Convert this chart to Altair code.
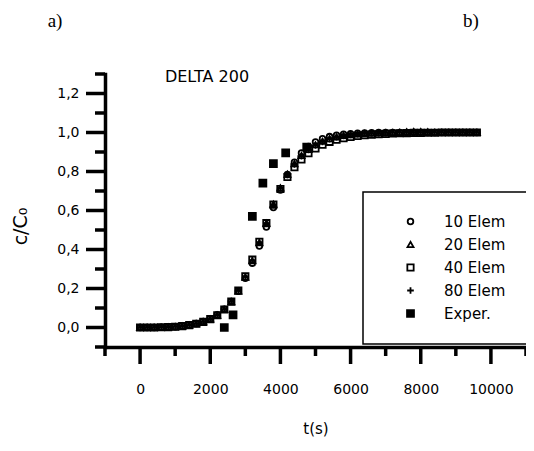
import altair as alt
import pandas as pd

# ---- data ----
times = [0, 200, 400, 600, 800, 1000, 1200, 1400, 1600, 1800, 2000, 2200, 2400,
         2600, 2800, 3000, 3200, 3400, 3600, 3800, 4000, 4200, 4400, 4600, 4800,
         5000, 5200, 5400, 5600, 5800, 6000, 6200, 6400, 6600, 6800, 7000, 7200,
         7400, 7600, 7800, 8000, 8200, 8400, 8600, 8800, 9000, 9200, 9400, 9600]

elem10 = [0, 0, 0, 0.001, 0.002, 0.004, 0.008, 0.013, 0.020, 0.031,
          0.045, 0.065, 0.094, 0.134, 0.186, 0.252, 0.330, 0.418, 0.515, 0.615,
          0.705, 0.785, 0.848, 0.895, 0.928, 0.952, 0.968, 0.979, 0.986, 0.991,
          0.994, 0.996, 0.998, 0.999, 1.0, 1.0, 1.0,
          1.0, 1.0, 1.0, 1.0, 1.0, 1.0, 1.0, 1.0, 1.0, 1.0, 1.0, 1.0]

elem20 = [0, 0, 0, 0.001, 0.002, 0.004, 0.007, 0.012, 0.019, 0.029,
          0.043, 0.063, 0.092, 0.132, 0.187, 0.258, 0.342, 0.435, 0.535, 0.632,
          0.716, 0.786, 0.840, 0.882, 0.913, 0.937, 0.955, 0.968, 0.977, 0.984,
          0.989, 0.992, 0.994, 0.996, 0.997, 0.998, 0.999,
          1.0, 1.003, 1.005, 1.004, 1.003, 1.0, 1.0, 1.0, 1.0, 1.0, 1.0, 1.0]

elem40 = [0, 0, 0, 0.001, 0.002, 0.004, 0.007, 0.012, 0.019, 0.029,
          0.043, 0.063, 0.092, 0.133, 0.189, 0.262, 0.348, 0.440, 0.535, 0.630,
          0.710, 0.772, 0.822, 0.862, 0.894, 0.918, 0.937, 0.952, 0.963, 0.971,
          0.977, 0.982, 0.986, 0.989, 0.991, 0.993, 0.995,
          0.996, 0.997, 0.998, 0.998, 0.999, 0.999, 1.0, 1.0, 1.0, 1.0, 1.0, 1.0]

elem80 = [0, 0, 0, 0.001, 0.002, 0.004, 0.007, 0.012, 0.019, 0.029,
          0.043, 0.063, 0.092, 0.133, 0.188, 0.260, 0.345, 0.438, 0.535, 0.630,
          0.713, 0.782, 0.836, 0.878, 0.910, 0.934, 0.952, 0.966, 0.976, 0.983,
          0.988, 0.991, 0.994, 0.996, 0.997, 0.998, 0.999,
          1.0, 1.0, 1.0, 1.0, 1.0, 1.0, 1.0, 1.0, 1.0, 1.0, 1.0, 1.0]

exp_t = [2400, 2650, 3200, 3500, 3800, 4150, 4750]
exp_c = [0.0, 0.065, 0.57, 0.74, 0.84, 0.895, 0.925]

series_names = ["10 Elem", "20 Elem", "40 Elem", "80 Elem", "Exper."]
series_shapes = ["circle", "triangle-up", "square", "M-1,0H1M0,-1V1", "square"]
series_fills = ["transparent", "transparent", "transparent", "transparent", "black"]
series_sizes = [32, 48, 38, 50, 64]

x_major = [0, 2000, 4000, 6000, 8000, 10000]
x_minor = [-1000, 1000, 3000, 5000, 7000, 9000, 11000]
y_major = [0.0, 0.2, 0.4, 0.6, 0.8, 1.0, 1.2]
y_minor = [-0.1, 0.1, 0.3, 0.5, 0.7, 0.9, 1.1, 1.3]

# ---- build tables ----
rows = []
for name, vals in zip(series_names[:4], [elem10, elem20, elem40, elem80]):
    for t, c in zip(times, vals):
        rows.append({"t": t, "c": c, "series": name})
for t, c in zip(exp_t, exp_c):
    rows.append({"t": t, "c": c, "series": "Exper."})
df = pd.DataFrame(rows)

FONT = "DejaVu Sans"
W, H = 421, 273
LW = 3.5

xscale = alt.Scale(domain=[-1000, 11000], nice=False, zero=False)
yscale = alt.Scale(domain=[-0.1, 1.3], nice=False, zero=False)

x_axis = alt.Axis(
    values=x_major, title="t(s)",
    titleFont=FONT, titleFontSize=15, titleFontWeight="normal", titleColor="black",
    titlePadding=25,
    labelFont=FONT, labelFontSize=14, labelColor="black", labelPadding=35,
    format="d", ticks=False, tickSize=0,
    domainWidth=LW, domainColor="black", grid=False, labelOverlap=False, labelFlush=False,
)

y_axis = alt.Axis(
    values=y_major, title="c/C\u2080",
    titleFont=FONT, titleFontSize=19, titleFontWeight="normal", titleColor="black",
    titlePadding=26, titleY=152,
    labelFont=FONT, labelFontSize=14, labelColor="black", labelPadding=26,
    labelExpr="replace(format(datum.value, '.1f'), '.', ',')",
    ticks=False, tickSize=0,
    domainWidth=LW, domainColor="black", grid=False, labelOverlap=False, labelFlush=False,
)

points = alt.Chart(df).mark_point(strokeWidth=1.8, opacity=1).encode(
    x=alt.X("t:Q", scale=xscale, axis=x_axis),
    y=alt.Y("c:Q", scale=yscale, axis=y_axis),
    shape=alt.Shape("series:N", scale=alt.Scale(domain=series_names, range=series_shapes),
                    legend=alt.Legend(title=None)),
    fill=alt.Fill("series:N", scale=alt.Scale(domain=series_names, range=series_fills),
                  legend=alt.Legend(title=None)),
    stroke=alt.Stroke("series:N", scale=alt.Scale(domain=series_names, range=["black"] * 5),
                      legend=alt.Legend(title=None)),
    size=alt.Size("series:N", scale=alt.Scale(domain=series_names, range=series_sizes),
                  legend=alt.Legend(title=None)),
)

# axis ticks (major / minor), positioned by the scales
xmaj = alt.Chart(pd.DataFrame({"t": x_major})).mark_rule(strokeWidth=LW, color="black").encode(
    x=alt.X("t:Q", scale=xscale, axis=x_axis), y=alt.value(H), y2=alt.value(H + 17))
xmin = alt.Chart(pd.DataFrame({"t": x_minor})).mark_rule(strokeWidth=LW, color="black").encode(
    x=alt.X("t:Q", scale=xscale, axis=x_axis), y=alt.value(H), y2=alt.value(H + 9))
ymaj = alt.Chart(pd.DataFrame({"c": y_major})).mark_rule(strokeWidth=LW, color="black").encode(
    y=alt.Y("c:Q", scale=yscale, axis=y_axis), x=alt.value(0), x2=alt.value(-19))
ymin = alt.Chart(pd.DataFrame({"c": y_minor})).mark_rule(strokeWidth=LW, color="black").encode(
    y=alt.Y("c:Q", scale=yscale, axis=y_axis), x=alt.value(0), x2=alt.value(-10))

delta = alt.Chart(pd.DataFrame({"label": ["DELTA 200"]})).mark_text(
    font=FONT, fontSize=16, color="black", align="center", baseline="middle").encode(
    x=alt.value(102), y=alt.value(3), text="label:N")

panel_a = alt.Chart(pd.DataFrame({"label": ["a)"]})).mark_text(
    font="Liberation Serif", fontSize=19, color="black", align="center", baseline="middle").encode(
    x=alt.value(-50), y=alt.value(-53), text="label:N")
panel_b = alt.Chart(pd.DataFrame({"label": ["b)"]})).mark_text(
    font="Liberation Serif", fontSize=19, color="black", align="center", baseline="middle").encode(
    x=alt.value(366), y=alt.value(-53), text="label:N")

chart = alt.layer(points, xmaj, xmin, ymaj, ymin, delta, panel_a, panel_b).properties(
    width=W, height=H,
    padding={"left": 97, "top": 66, "right": 0, "bottom": 94},
    autosize=alt.AutoSizeParams(type="none"),
).configure_view(stroke=None).configure_axis(
    domainWidth=LW, domainColor="black", domainCap="square",
).configure_legend(
    orient="none", legendX=258, legendY=118,
    strokeColor="black", fillColor="white", padding=22, strokeWidth=1.5,
    labelFont=FONT, labelFontSize=15, labelColor="black",
    rowPadding=7, symbolOffset=18, labelOffset=26,
    symbolStrokeWidth=1.8,
)

chart.save("out.html", embed_options={"renderer": "svg", "actions": False})
